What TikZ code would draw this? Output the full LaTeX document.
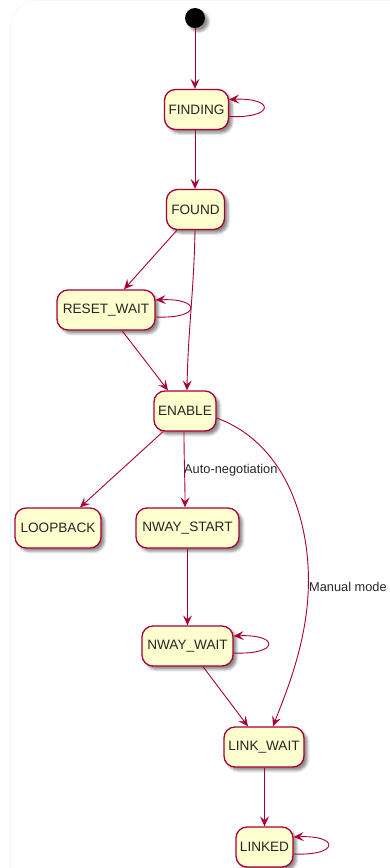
\documentclass[tikz,border=0pt]{standalone}
\usepackage{fontspec}
\setmainfont{Liberation Sans}
\usetikzlibrary{arrows.meta,calc,shadows.blur}

\definecolor{stateborder}{HTML}{A80036}
\definecolor{statefill}{HTML}{FEFECE}

\tikzset{
  statebox/.style={draw=stateborder, fill=statefill, line width=1.3pt,
    rounded corners=11pt, minimum height=40pt, inner sep=0pt,
    font=\fontsize{13.6}{15}\selectfont, text=black!85,
    blur shadow={shadow xshift=3.5pt, shadow yshift=-3.5pt,
      shadow blur radius=2.5pt, shadow opacity=45}},
  startdot/.style={circle, fill=black, minimum size=20pt, inner sep=0pt,
    blur shadow={shadow xshift=3.5pt, shadow yshift=-3.5pt,
      shadow blur radius=2.5pt, shadow opacity=45}},
  tr/.style={draw=stateborder, line width=0.9pt,
    -{Stealth[length=10pt, width=9pt, inset=4pt]}},
  trlabel/.style={font=\fontsize{12.8}{15}\selectfont, text=black!85, inner sep=0pt, anchor=west},
}

\begin{document}
\begin{tikzpicture}[x=1pt, y=-1pt]
  \useasboundingbox (0,0) rectangle (390,868);
  % faint outer frame
  \draw[black!4, line width=0.8pt, rounded corners=26pt] (10.5,0.5) rectangle (430,900);

  % states
  \node[startdot] (start) at (195,18) {};
  \node[statebox, minimum width=64pt] (finding)   at (196.5,109.5) {FINDING};
  \node[statebox, minimum width=58pt] (found)     at (195.5,209.5) {FOUND};
  \node[statebox, minimum width=98pt] (resetwait) at (106,310)     {RESET\_WAIT};
  \node[statebox, minimum width=62pt] (enable)    at (185,411)     {ENABLE};
  \node[statebox, minimum width=86pt] (loopback)  at (58,528)      {LOOPBACK};
  \node[statebox, minimum width=103pt] (nstart)   at (187.5,528)   {NWAY\_START};
  \node[statebox, minimum width=91pt] (nwait)     at (187.5,646)   {NWAY\_WAIT};
  \node[statebox, minimum width=80pt] (linkwait)  at (264,747)     {LINK\_WAIT};
  \node[statebox, minimum width=57pt] (linked)    at (264.5,847)   {LINKED};

  % transitions
  \draw[tr] (start) -- ($(finding.north)+(-1.5,0)$);
  \draw[tr] ($(finding.south)+(-1.5,0)$) -- ($(found.north)+(-0.5,0)$);
  \draw[tr] ($(found.south)+(-18.5,0)$) -- ($(resetwait.north)+(18,0)$);
  \draw[tr] ($(found.south)+(-0.5,0)$) .. controls +(-1,60) and +(1,-60) .. ($(enable.north)+(2,0)$);
  \draw[tr] ($(resetwait.south)+(16,0)$) -- ($(enable.north)+(-17,0)$);
  \draw[tr] ($(enable.south)+(-22,0)$) -- ($(loopback.north)+(22,0)$);
  \draw[tr] ($(enable.south)+(-1,0)$) .. controls +(0,30) and +(0,-30) .. ($(nstart.north)+(-2.5,0)$);
  \node[trlabel] (autolbl) at (184,470) {Auto-negotiation};
  \draw[tr] ($(enable.east)+(0,7)$) .. controls (290,445) and (312,530) .. (308,595)
    .. controls (305,650) and (283,700) .. ($(linkwait.north)+(9,0)$);
  \node[trlabel] (manuallbl) at (309,587) {Manual mode};
  \draw[tr] (nstart.south) -- (nwait.north);
  \draw[tr] ($(nwait.south)+(15.5,0)$) -- ($(linkwait.north)+(-16,0)$);
  \draw[tr] ($(linkwait.south)+(0.5,0)$) -- ($(linked.north)+(0,0)$);

  % self transitions
  \foreach \n in {finding, resetwait, nwait, linked}{
    \draw[tr] ($(\n.east)+(0,7)$) .. controls +(46,2) and +(46,-2) .. ($(\n.east)+(0,-10)$);
  }
\end{tikzpicture}
\end{document}
